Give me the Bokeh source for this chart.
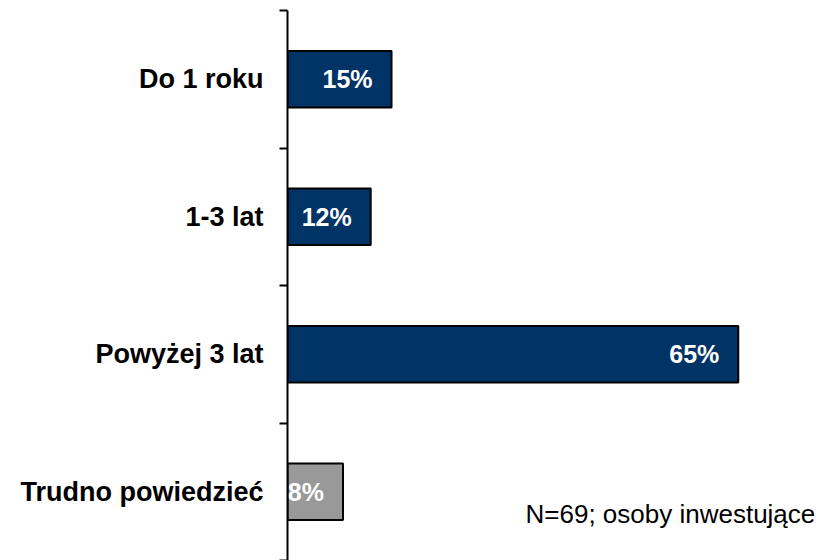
from bokeh.plotting import figure
from bokeh.models import ColumnDataSource, Range1d, FixedTicker, Label
from bokeh.core.properties import value
from bokeh.embed import file_html
from bokeh.resources import INLINE

categories = ["Do 1 roku", "1-3 lat", "Powyżej 3 lat", "Trudno powiedzieć"]
shares = [15, 12, 65, 8]
share_labels = ["15%", "12%", "65%", "8%"]
note_text = "N=69; osoby inwestujące"

bar_colors = ["#003366", "#003366", "#003366", "#999999"]
positions = list(range(len(categories)))

src = ColumnDataSource(dict(y=positions, v=shares, lab=share_labels, col=bar_colors))

p = figure(width=830, height=560, output_backend="svg", toolbar_location=None,
           x_range=Range1d(0, 78.3), y_range=Range1d(3.5, -0.5),
           min_border_left=287, min_border_right=0, min_border_top=10, min_border_bottom=0,
           x_axis_location=None)
p.outline_line_color = None
p.xgrid.visible = False
p.ygrid.visible = False
p.background_fill_color = "white"
p.border_fill_color = "white"

p.hbar(y="y", right="v", left=0, height=0.41, fill_color="col", line_color="black",
       line_width=2, source=src)
p.text(x="v", y="y", text="lab", x_offset=-19, text_align="right", text_baseline="middle",
       text_color="white", text_font=value("Liberation Sans"), text_font_style="bold",
       text_font_size="25px", source=src)

ax = p.yaxis[0]
ax.ticker = FixedTicker(ticks=positions, minor_ticks=[i - 0.5 for i in range(len(categories) + 1)])
ax.major_label_overrides = {i: c for i, c in enumerate(categories)}
ax.major_tick_out = 0
ax.major_tick_in = 0
ax.minor_tick_out = 8
ax.minor_tick_in = 0
ax.minor_tick_line_width = 2
ax.minor_tick_line_color = "black"
ax.axis_line_width = 2
ax.axis_line_color = "black"
ax.major_label_standoff = 16
ax.major_label_text_font = "Liberation Sans"
ax.major_label_text_font_style = "bold"
ax.major_label_text_font_size = "27px"
ax.major_label_text_color = "black"

note = Label(x=238, y=47, x_units="screen", y_units="screen", text=note_text,
             text_font="Liberation Sans", text_font_size="26px", text_color="black",
             text_baseline="alphabetic")
p.add_layout(note)

open("out.html", "w").write(file_html(p, INLINE))
